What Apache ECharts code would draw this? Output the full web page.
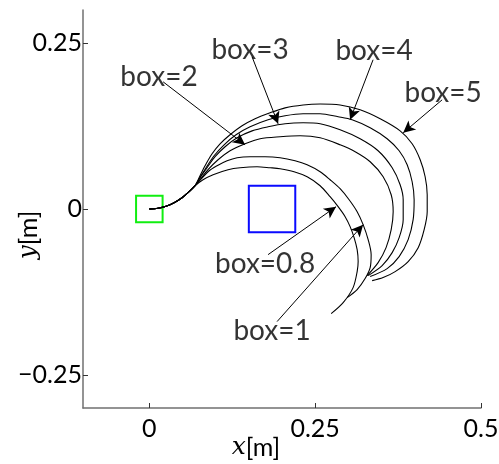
<!DOCTYPE html>
<html>
<head>
<meta charset="utf-8">
<script src="https://cdn.jsdelivr.net/npm/echarts@6/dist/echarts.min.js"></script>
<style>
  html, body { margin: 0; padding: 0; background: #fff; }
  #chart { width: 499px; height: 464px; }
</style>
</head>
<body>
<div id="chart"></div>
<script>
// Axis ticks
const xTicks = [0, 0.25, 0.5];
const yTicks = [-0.25, 0, 0.25];

// Pusher trajectories [x, y] in metres, one per box parameter
const trajBox08 = [[0,0],[0.0131,0.0012],[0.0252,0.0042],[0.0373,0.0095],[0.0493,0.0170],[0.0599,0.0261],[0.0689,0.0351],
  [0.0810,0.0441],[0.0961,0.0517],[0.1187,0.0592],[0.1368,0.0622],[0.1624,0.0637],[0.1820,0.0622],[0.1971,0.0607],
  [0.2182,0.0562],[0.2379,0.0486],[0.2575,0.0351],[0.2725,0.0185],[0.2846,0.0035],[0.2952,-0.0116],[0.3027,-0.0266],
  [0.3087,-0.0432],[0.3133,-0.0613],[0.3148,-0.0793],[0.3133,-0.0944],[0.3072,-0.1185],[0.2922,-0.1411],[0.2741,-0.1577]];
const trajBox1 = [[0,0],[0.0131,0.0012],[0.0252,0.0042],[0.0373,0.0095],[0.0493,0.0170],[0.0599,0.0261],[0.0689,0.0351],
  [0.0885,0.0562],[0.1021,0.0652],[0.1172,0.0727],[0.1323,0.0773],[0.1519,0.0788],[0.1745,0.0788],[0.1971,0.0773],
  [0.2197,0.0727],[0.2379,0.0667],[0.2575,0.0562],[0.2725,0.0441],[0.2876,0.0306],[0.3012,0.0140],[0.3133,-0.0041],
  [0.3223,-0.0236],[0.3299,-0.0462],[0.3344,-0.0688],[0.3329,-0.0884],[0.3253,-0.1049],[0.3133,-0.1215],[0.2982,-0.1336]];
const trajBox2 = [[0,0],[0.0131,0.0012],[0.0252,0.0042],[0.0373,0.0095],[0.0493,0.0170],[0.0599,0.0261],[0.0689,0.0351],
  [0.0885,0.0592],[0.1036,0.0742],[0.1217,0.0878],[0.1443,0.0983],[0.1670,0.1059],[0.1971,0.1089],[0.2273,0.1104],
  [0.2575,0.1074],[0.2876,0.0968],[0.3103,0.0863],[0.3329,0.0712],[0.3525,0.0486],[0.3646,0.0215],[0.3676,-0.0041],
  [0.3646,-0.0311],[0.3569,-0.0583],[0.3449,-0.0809],[0.3284,-0.1004]];
const trajBox3 = [[0,0],[0.0131,0.0012],[0.0252,0.0042],[0.0373,0.0095],[0.0493,0.0170],[0.0599,0.0261],[0.0689,0.0351],
  [0.0780,0.0501],[0.0870,0.0622],[0.0991,0.0788],[0.1142,0.0938],[0.1323,0.1074],[0.1549,0.1178],[0.1790,0.1239],
  [0.2047,0.1285],[0.2318,0.1300],[0.2575,0.1285],[0.2876,0.1194],[0.3178,0.1059],[0.3449,0.0878],[0.3661,0.0622],
  [0.3781,0.0366],[0.3827,0.0140],[0.3827,-0.0161],[0.3766,-0.0432],[0.3661,-0.0658],[0.3510,-0.0853],[0.3299,-0.1004]];
const trajBox4 = [[0,0],[0.0131,0.0012],[0.0252,0.0042],[0.0373,0.0095],[0.0493,0.0170],[0.0599,0.0261],[0.0689,0.0351],
  [0.0765,0.0471],[0.0855,0.0622],[0.0976,0.0803],[0.1127,0.0968],[0.1307,0.1119],[0.1519,0.1239],[0.1790,0.1345],
  [0.2047,0.1405],[0.2318,0.1435],[0.2575,0.1435],[0.2846,0.1390],[0.3057,0.1345],[0.3329,0.1224],[0.3585,0.1059],
  [0.3766,0.0878],[0.3887,0.0667],[0.3962,0.0411],[0.3992,0.0140],[0.3977,-0.0161],[0.3902,-0.0462],[0.3766,-0.0718],
  [0.3585,-0.0899],[0.3329,-0.1019]];
const trajBox5 = [[0,0],[0.0131,0.0012],[0.0252,0.0042],[0.0373,0.0095],[0.0493,0.0170],[0.0599,0.0261],[0.0689,0.0351],
  [0.0750,0.0471],[0.0840,0.0652],[0.0946,0.0833],[0.1066,0.0983],[0.1217,0.1119],[0.1398,0.1254],[0.1594,0.1360],
  [0.1820,0.1450],[0.2047,0.1525],[0.2318,0.1569],[0.2575,0.1584],[0.2876,0.1569],[0.3178,0.1495],[0.3480,0.1360],
  [0.3781,0.1178],[0.3962,0.0983],[0.4083,0.0742],[0.4158,0.0486],[0.4189,0.0215],[0.4189,-0.0041],[0.4143,-0.0311],
  [0.4053,-0.0583],[0.3902,-0.0793],[0.3706,-0.0944],[0.3525,-0.1034],[0.3359,-0.1080]];

// Start region (green) and box (blue): [xmin, ymin, xmax, ymax]
const startRegion = [-0.02, -0.02, 0.02, 0.02];
const boxRegion = [0.15, -0.035, 0.22, 0.035];

// Annotation texts, their anchors and arrows
const labelNames = ['box=0.8', 'box=1', 'box=2', 'box=3', 'box=4', 'box=5'];
const labelPos = [[0.1745,-0.0824],[0.1850,-0.1833],[0.0146,0.1992],[0.1519,0.2399],[0.3388,0.2384],[0.4429,0.1751]];
const arrowFrom = [[0.1790,-0.0688],[0.1926,-0.1697],[0.0208,0.1917],[0.1549,0.2294],[0.3373,0.2250],[0.4414,0.1646]];
const arrowTo = [[0.2815,0.0035],[0.3223,-0.0236],[0.1443,0.0968],[0.1941,0.1285],[0.3027,0.1345],[0.3827,0.1149]];

const trajectories = [trajBox08, trajBox1, trajBox2, trajBox3, trajBox4, trajBox5];
const FONT = 'Lato';

function fmtTick(v) {
  if (v === 0) return '0';
  return v < 0 ? '\u2212' + String(-v) : String(v);
}

function region(r, color) {
  return [{ coord: [r[0], r[3]], itemStyle: { color: 'transparent', borderColor: color, borderWidth: 2 } },
          { coord: [r[2], r[1]] }];
}

const series = trajectories.map((d, i) => ({
  type: 'line',
  name: labelNames[i],
  data: d,
  showSymbol: false,
  smooth: 0.3,
  lineStyle: { color: '#000', width: 1.1 },
  z: 3
}));

series.push({
  type: 'scatter',
  name: 'labels',
  symbolSize: 0,
  data: labelNames.map((n, i) => ({ name: n, value: labelPos[i] })),
  label: {
    show: true, position: 'inside', formatter: '{b}',
    fontFamily: FONT, fontSize: 28, color: '#000'
  },
  markLine: {
    silent: true,
    symbol: ['none', 'arrow'],
    symbolSize: [9, 12],
    label: { show: false },
    lineStyle: { color: '#000', width: 1, type: 'solid' },
    data: arrowFrom.map((p, i) => [{ coord: p }, { coord: arrowTo[i] }])
  },
  markArea: {
    silent: true,
    data: [region(startRegion, '#10ee10'), region(boxRegion, '#0a0aff')]
  },
  z: 4
});

const nameRich = {
  i: { fontFamily: 'DejaVu Serif', fontStyle: 'italic', fontSize: 25, color: '#000' },
  n: { fontFamily: FONT, fontSize: 25, color: '#000' }
};

const chart = echarts.init(document.getElementById('chart'), null, { renderer: 'canvas' });
chart.setOption({
  animation: false,
  backgroundColor: '#fff',
  grid: { left: 83, right: 18, top: 10, bottom: 56, containLabel: false, outerBoundsMode: 'none' },
  xAxis: {
    type: 'value', min: -0.1, max: 0.5,
    axisLine: { show: true, onZero: false, lineStyle: { color: '#707070', width: 1.5 } },
    axisTick: { show: true, inside: true, length: 5, customValues: xTicks, lineStyle: { color: '#333' } },
    axisLabel: { customValues: xTicks, formatter: fmtTick, fontFamily: FONT, fontSize: 25, color: '#000', margin: 8 },
    splitLine: { show: false },
    name: '{i|x}{n|[m]}',
    nameLocation: 'middle',
    nameMoveOverlap: false,
    nameGap: 27,
    nameTextStyle: { padding: [0, 52, 0, 0], rich: nameRich }
  },
  yAxis: {
    type: 'value', min: -0.3, max: 0.3,
    axisLine: { show: true, onZero: false, lineStyle: { color: '#707070', width: 1.5 } },
    axisTick: { show: true, inside: true, length: 5, customValues: yTicks, lineStyle: { color: '#333' } },
    axisLabel: { customValues: yTicks, formatter: fmtTick, fontFamily: FONT, fontSize: 25, color: '#000', margin: 1 },
    splitLine: { show: false },
    name: '{i|y}{n|[m]}',
    nameLocation: 'middle',
    nameMoveOverlap: false,
    nameGap: 42,
    nameTextStyle: { padding: [0, 52, 0, 0], rich: nameRich }
  },
  series: series
});
</script>
</body>
</html>
